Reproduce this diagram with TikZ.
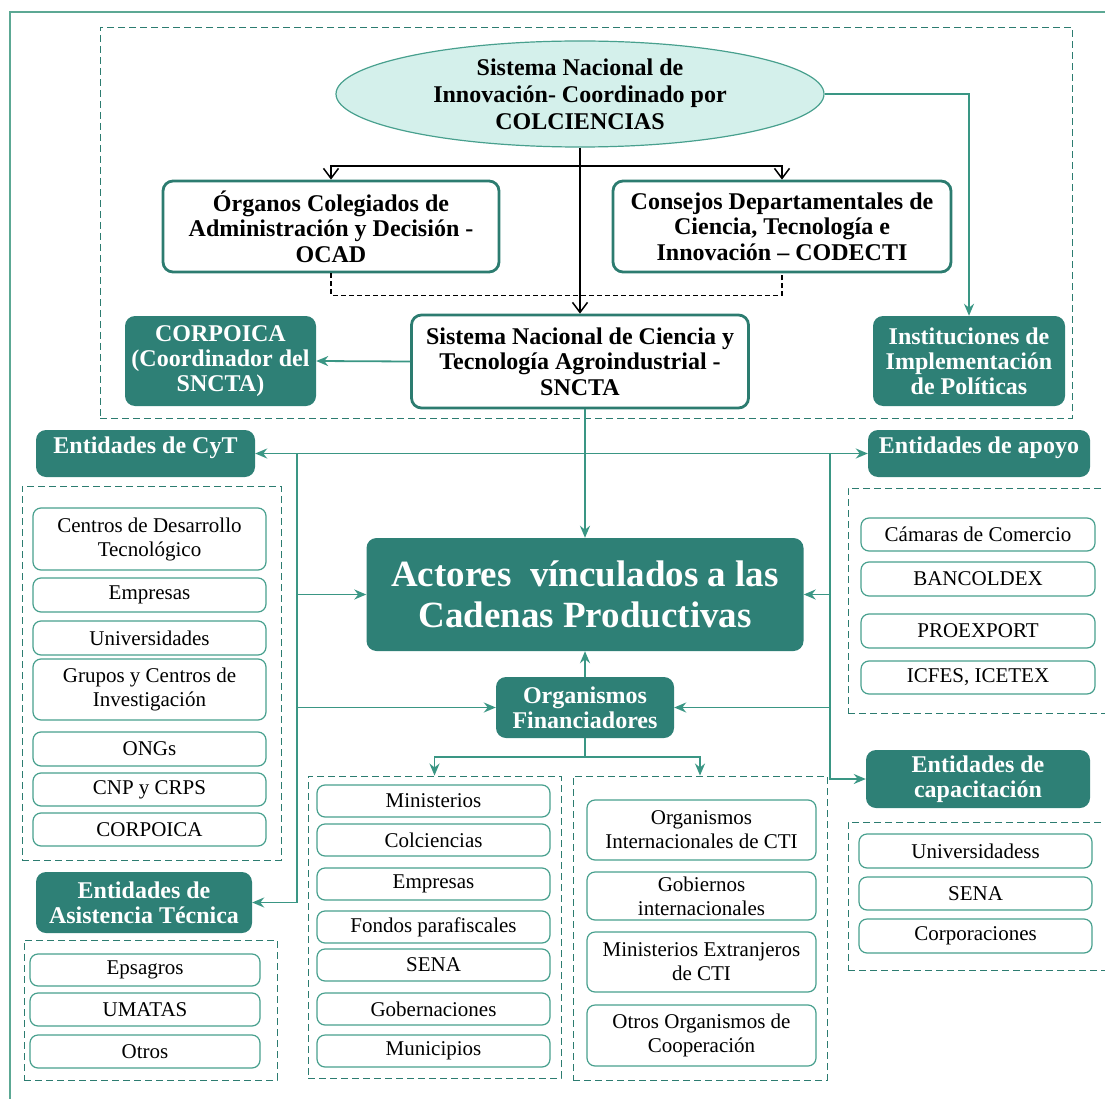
\documentclass[tikz,border=0pt]{standalone}
\usepackage{fontspec}
\setmainfont{Liberation Serif}
\usepackage{xcolor}
\usetikzlibrary{shapes.geometric,arrows.meta}
\definecolor{tealF}{RGB}{46,128,118}
\definecolor{tealD}{RGB}{44,124,112}
\definecolor{tealL}{RGB}{72,160,142}
\definecolor{tealA}{RGB}{58,150,132}
\definecolor{ellF}{RGB}{212,240,235}
\definecolor{frameC}{RGB}{92,168,148}
\tikzset{
  ell/.style={ellipse,draw=tealL,line width=1.2pt,fill=ellF,inner sep=0pt,align=center,font=\bfseries\fontsize{24}{27}\selectfont},
  wbox/.style={rectangle,rounded corners=10pt,draw=tealD,line width=2.8pt,fill=white,align=center,inner sep=2pt,font=\bfseries\fontsize{24}{25.5}\selectfont},
  hdr/.style={rectangle,rounded corners=10pt,fill=tealF,text=white,align=center,inner sep=2pt,font=\bfseries\fontsize{24}{25}\selectfont},
  item/.style={rectangle,rounded corners=8pt,draw=tealL,line width=1.2pt,fill=white,align=center,inner sep=1pt,font=\fontsize{21}{24}\selectfont},
  grp/.style={rectangle,draw=tealD,line width=0.9pt,dash pattern=on 7pt off 4pt,inner sep=0pt},
  link/.style={draw=tealA,line width=1.8pt,->},
  blk/.style={draw=black,line width=1.5pt,-{Straight Barb[length=10pt,width=15pt]}},
}

\begin{document}
\begin{tikzpicture}[x=1pt,y=-1pt,>={Stealth[length=12pt,width=10pt]}]
    \useasboundingbox (0,0) rectangle (1105,1099);
    \clip (0,0) rectangle (1105,1099);
    \draw[frameC,line width=1.5pt] (1105,12) -- (10,12) -- (10,1099);

    % dashed groups
    \node[grp,minimum width=972,minimum height=391] (topG) at (586,222.5) {};
    \node[grp,minimum width=259,minimum height=374] (cytG) at (151.5,673) {};
    \node[grp,minimum width=253,minimum height=140] (asisG) at (150.5,1010) {};
    \node[grp,minimum width=253,minimum height=302] (finGa) at (434.5,927) {};
    \node[grp,minimum width=254,minimum height=304] (finGb) at (700,928) {};
    \node[grp,minimum width=267,minimum height=225] (apoyoG) at (981.5,600.5) {};
    \node[grp,minimum width=267,minimum height=148] (capG) at (981.5,896) {};

    % top part
    \node[ell,minimum width=488,minimum height=106] (sni) at (580,94) {Sistema Nacional de\\Innovación- Coordinado por\\COLCIENCIAS};
    \node[wbox,minimum width=336,minimum height=91] (ocad) at (331,226.5) {Órganos Colegiados de\\Administración y Decisión -\\OCAD};
    \node[wbox,minimum width=338,minimum height=91] (codecti) at (782,226.5) {Consejos Departamentales de\\Ciencia, Tecnología e\\Innovación – CODECTI};
    \node[wbox,minimum width=337,minimum height=93] (sncta) at (580,361.5) {Sistema Nacional de Ciencia y\\Tecnología Agroindustrial -\\SNCTA};
    \node[hdr,minimum width=191,minimum height=90] (corp) at (220.5,361) {CORPOICA\\(Coordinador del\\SNCTA)};
    \node[hdr,minimum width=192,minimum height=90] (inst) at (969,361) {Instituciones de\\Implementación\\de Políticas};

    % centre
    \node[hdr,minimum width=437,minimum height=113,font=\bfseries\fontsize{37}{41}\selectfont] (actores) at (585,594.5) {Actores~ vínculados a las\\Cadenas Productivas};
    \node[hdr,minimum width=178,minimum height=61] (fin) at (585,707.5) {Organismos\\Financiadores};
    \node[hdr,minimum width=219,minimum height=47,text depth=16pt] (cyt) at (145.5,453.5) {Entidades de CyT};
    \node[hdr,minimum width=222,minimum height=47,text depth=16pt] (apoyo) at (979,453.5) {Entidades de apoyo};
    \node[hdr,minimum width=216,minimum height=61] (asis) at (144,902.5) {Entidades de\\Asistencia Técnica};
    \node[hdr,minimum width=224,minimum height=58] (capac) at (978,779) {Entidades de\\capacitación};

    % Entidades de CyT
    \node[item,minimum width=233,minimum height=62] (cdt) at (149.5,539) {Centros de Desarrollo\\Tecnológico};
    \node[item,minimum width=233,minimum height=34] (empa) at (149.5,595) {Empresas};
    \node[item,minimum width=233,minimum height=34] (univa) at (149.5,638) {Universidades};
    \node[item,minimum width=233,minimum height=61] (grupos) at (149.5,689.5) {Grupos y Centros de\\Investigación};
    \node[item,minimum width=233,minimum height=34] (ongs) at (149.5,749) {ONGs};
    \node[item,minimum width=233,minimum height=33] (cnp) at (149.5,789.5) {CNP y CRPS};
    \node[item,minimum width=233,minimum height=33] (corpb) at (149.5,829.5) {CORPOICA};

    % Asistencia Tecnica
    \node[item,minimum width=230,minimum height=32] (epsa) at (145,970) {Epsagros};
    \node[item,minimum width=230,minimum height=33] (umatas) at (145,1009.5) {UMATAS};
    \node[item,minimum width=230,minimum height=33] (otros) at (145,1051.5) {Otros};

    % Financiadores nacionales
    \node[item,minimum width=233,minimum height=32] (mins) at (433.5,801) {Ministerios};
    \node[item,minimum width=233,minimum height=32] (colc) at (433.5,840) {Colciencias};
    \node[item,minimum width=233,minimum height=32] (empb) at (433.5,884) {Empresas};
    \node[item,minimum width=233,minimum height=32] (fondos) at (433.5,927) {Fondos parafiscales};
    \node[item,minimum width=233,minimum height=32] (senaa) at (433.5,965) {SENA};
    \node[item,minimum width=233,minimum height=32] (gob) at (433.5,1009) {Gobernaciones};
    \node[item,minimum width=233,minimum height=32] (muni) at (433.5,1051) {Municipios};

    % Financiadores internacionales
    \node[item,minimum width=229,minimum height=60] (oint) at (701.5,830) {Organismos\\Internacionales de CTI};
    \node[item,minimum width=229,minimum height=48] (gint) at (701.5,896) {Gobiernos\\internacionales};
    \node[item,minimum width=229,minimum height=60] (mext) at (701.5,962) {Ministerios Extranjeros\\de CTI};
    \node[item,minimum width=229,minimum height=61] (ocoop) at (701.5,1035.5) {Otros Organismos de\\Cooperación};

    % Entidades de apoyo
    \node[item,minimum width=234,minimum height=33] (cam) at (978,534.5) {Cámaras de Comercio};
    \node[item,minimum width=234,minimum height=34] (banc) at (978,579) {BANCOLDEX};
    \node[item,minimum width=234,minimum height=34] (proex) at (978,631) {PROEXPORT};
    \node[item,minimum width=234,minimum height=33] (icfes) at (978,677.5) {ICFES, ICETEX};

    % Entidades de capacitacion
    \node[item,minimum width=233,minimum height=34] (univb) at (975.5,851) {Universidadess};
    \node[item,minimum width=233,minimum height=33] (senab) at (975.5,893.5) {SENA};
    \node[item,minimum width=233,minimum height=34] (corpo) at (975.5,936) {Corporaciones};

    % black connectors
    \coordinate (split) at (580,166);
    \draw[blk] (sni.south) -- (sncta.north);
    \draw[blk] (split) -| (ocad.north);
    \draw[blk] (split) -| (codecti.north);
    \draw[black,line width=1.2pt,dash pattern=on 5pt off 3pt] (ocad.south) -- ++(0,22) -| (codecti.south);

    % teal connectors
    \draw[link] (sni.east) -| (inst.north);
    \draw[link] (sncta.west) -- (corp.east);
    \draw[link] (actores.north |- sncta.south) -- (actores.north);
    \draw[link] (actores.north |- cyt.east) -- (cyt.east);
    \draw[link] (actores.north |- apoyo.west) -- (apoyo.west);
    \coordinate (lv) at (297,453.5);
    \coordinate (rv) at (830,453.5);
    \draw[link] (lv) |- (asis.east);
    \draw[link] (lv |- actores.west) -- (actores.west);
    \draw[link] (lv |- fin.west) -- (fin.west);
    \draw[link] (rv) |- (capac.west);
    \draw[link] (rv |- actores.east) -- (actores.east);
    \draw[link] (rv |- fin.east) -- (fin.east);
    \draw[link] (fin.north) -- (actores.south);
    \draw[link,-] (fin.south) -- ++(0,19) coordinate (fs);
    \draw[link] (fs) -| (finGa.north);
    \draw[link] (fs) -| (finGb.north);
\end{tikzpicture}
\end{document}
